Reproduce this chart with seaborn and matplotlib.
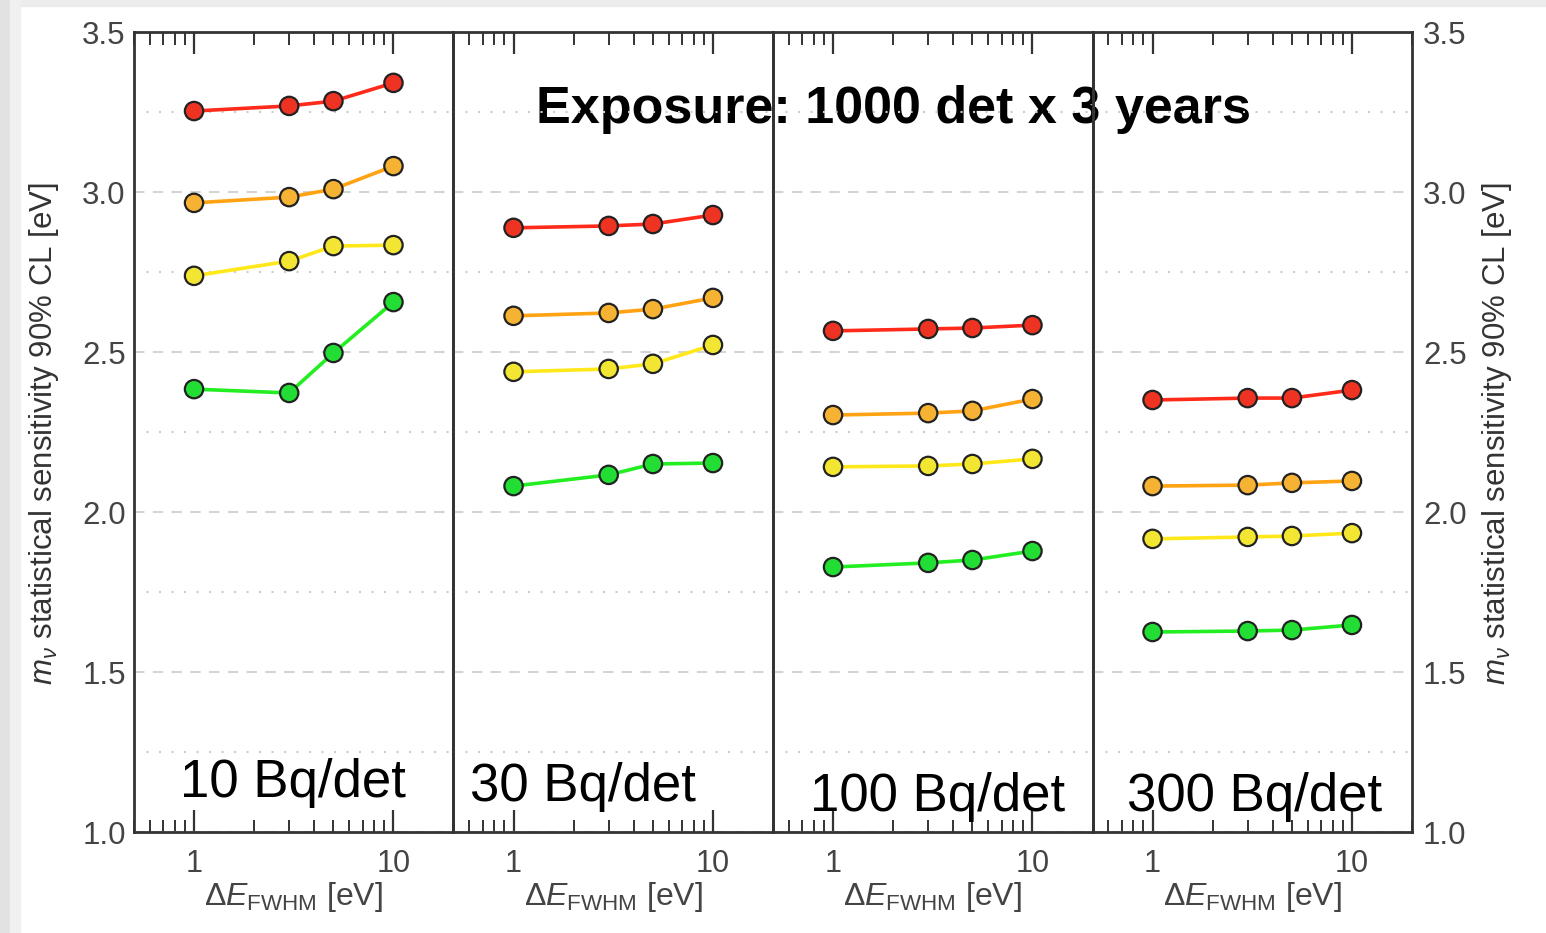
import numpy as np
import pandas as pd
import matplotlib
matplotlib.use("Agg")
import matplotlib.pyplot as plt
import matplotlib.ticker as mticker
from matplotlib.patches import Rectangle
import seaborn as sns

# ---- data ----
energy_res = [1, 3, 5, 10]
activities = ["10 Bq/det", "30 Bq/det", "100 Bq/det", "300 Bq/det"]
series = ["red", "orange", "yellow", "green"]

vals_10 = {
    "red":    [3.253, 3.269, 3.284, 3.341],
    "orange": [2.966, 2.984, 3.009, 3.081],
    "yellow": [2.738, 2.784, 2.831, 2.834],
    "green":  [2.384, 2.372, 2.497, 2.656],
}
vals_30 = {
    "red":    [2.888, 2.894, 2.900, 2.928],
    "orange": [2.613, 2.622, 2.634, 2.669],
    "yellow": [2.438, 2.447, 2.463, 2.522],
    "green":  [2.081, 2.116, 2.150, 2.153],
}
vals_100 = {
    "red":    [2.566, 2.572, 2.575, 2.584],
    "orange": [2.303, 2.309, 2.316, 2.353],
    "yellow": [2.141, 2.144, 2.150, 2.166],
    "green":  [1.828, 1.841, 1.850, 1.878],
}
vals_300 = {
    "red":    [2.350, 2.356, 2.356, 2.381],
    "orange": [2.081, 2.084, 2.091, 2.097],
    "yellow": [1.916, 1.922, 1.925, 1.934],
    "green":  [1.625, 1.628, 1.631, 1.647],
}
panel_vals = [vals_10, vals_30, vals_100, vals_300]

title_text = "Exposure: 1000 det x 3 years"
ylabel_text = r"$m_\nu$ statistical sensitivity 90% CL [eV]"
xlabel_text = r"$\Delta E_{\mathrm{FWHM}}$ [eV]"

line_pal = {"red": "#ff2a1a", "orange": "#ffa313", "yellow": "#ffe81a", "green": "#22ee22"}
mark_pal = {"red": "#ee3322", "orange": "#f5b233", "yellow": "#f2e633", "green": "#22dd33"}

rows = []
for act, pv in zip(activities, panel_vals):
    for s in series:
        for e, v in zip(energy_res, pv[s]):
            rows.append({"activity": act, "series": s, "dE": e, "m": v})
df = pd.DataFrame(rows)

# ---- style ----
sns.set_style("white")
plt.rcParams["font.family"] = ["Liberation Sans", "DejaVu Sans"]
plt.rcParams["mathtext.fontset"] = "custom"
plt.rcParams["mathtext.rm"] = "Liberation Sans"
plt.rcParams["mathtext.it"] = "Liberation Sans:italic"
plt.rcParams["mathtext.bf"] = "Liberation Sans:bold"

fig, axes = plt.subplots(1, 4, sharey=True, figsize=(15.46, 9.33), dpi=100)
fig.subplots_adjust(left=134/1546, right=1412/1546, bottom=1-832/933, top=1-32/933, wspace=0)

# light gray frame of the original screenshot
fig.patches.append(Rectangle((0, 1-6/933), 1, 6/933, transform=fig.transFigure,
                             color="#ececec", zorder=-5))
fig.patches.append(Rectangle((0, 0), 10/1546, 1, transform=fig.transFigure,
                             color="#e2e2e2", zorder=-5))
fig.patches.append(Rectangle((10/1546, 0), 10/1546, 1, transform=fig.transFigure,
                             color="#f0f0f0", zorder=-5))

label_pos = [(180, 783), (470, 787), (810, 797), (1127, 797)]
spine_col = "#333333"
tick_col = "#444444"

for i, (ax, act) in enumerate(zip(axes, activities)):
    sub = df[df["activity"] == act]
    ax.set_facecolor("none")
    sns.lineplot(data=sub, x="dE", y="m", hue="series", hue_order=series,
                 palette=line_pal, linewidth=2.6, legend=False, ax=ax, zorder=3)
    sns.scatterplot(data=sub, x="dE", y="m", hue="series", hue_order=series,
                    palette=mark_pal, s=175, edgecolor="#222222", linewidth=1.6,
                    legend=False, ax=ax, zorder=4)
    ax.set_xscale("log")
    ax.set_xlim(0.5, 20)
    ax.set_ylim(1.0, 3.5)
    ax.set_yticks([1.0, 1.5, 2.0, 2.5, 3.0, 3.5])
    ax.set_yticks([1.25, 1.75, 2.25, 2.75, 3.25], minor=True)
    ax.yaxis.set_major_formatter(mticker.FormatStrFormatter("%.1f"))
    ax.grid(axis="y", which="major", linestyle=(0, (5, 4)), color="#d4d4d4", linewidth=1.5)
    ax.grid(axis="y", which="minor", linestyle=(0, (1, 5)), color="#cccccc", linewidth=1.5)
    ax.set_axisbelow(True)
    ax.xaxis.set_major_locator(mticker.FixedLocator([1, 10]))
    ax.xaxis.set_major_formatter(mticker.FixedFormatter(["1", "10"]))
    ax.xaxis.set_minor_locator(mticker.LogLocator(base=10, subs=np.arange(2, 10)))
    ax.xaxis.set_minor_formatter(mticker.NullFormatter())
    ax.tick_params(axis="x", which="major", direction="in", length=16, width=1.6,
                   top=True, bottom=True, color=spine_col, labelsize=22,
                   labelcolor=tick_col, pad=12)
    ax.tick_params(axis="x", which="minor", direction="in", length=9, width=1.4,
                   top=True, bottom=True, color=spine_col)
    ax.tick_params(axis="y", which="both", length=0, labelsize=22.5, labelcolor=tick_col, pad=6)
    for sp in ax.spines.values():
        sp.set_color(spine_col)
        sp.set_linewidth(2)
        sp.set_zorder(5)
    ax.set_xlabel(xlabel_text, fontsize=23, color=tick_col, labelpad=1)
    ax.set_ylabel("")
    lx, ly = label_pos[i]
    fig.text(lx/1546, 1-ly/933, act, fontsize=38, color="black", ha="left", va="center")

axes[-1].tick_params(axis="y", labelright=True, pad=8)

# y-axis titles on both sides
fig.text(44/1546, 1-434/933, ylabel_text, fontsize=22.5, color="#333333",
         rotation=90, ha="center", va="center")
fig.text(1497/1546, 1-434/933, ylabel_text, fontsize=22.5, color="#333333",
         rotation=90, ha="center", va="center")

fig.text(893/1546, 1-109/933, title_text, fontsize=37.5, fontweight="bold",
         color="black", ha="center", va="center", zorder=-1)

fig.savefig("out.png", dpi=100, facecolor="white")
